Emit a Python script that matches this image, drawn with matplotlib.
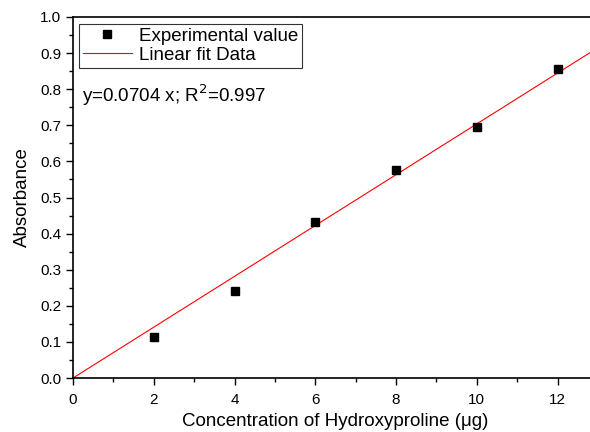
import matplotlib
matplotlib.use("Agg")
import numpy as np
import matplotlib.pyplot as plt

conc = [2, 4, 6, 8, 10, 12]
absorb = [0.113, 0.240, 0.432, 0.576, 0.695, 0.857]
slope = 0.0704
fit_x = [0, 13]

plt.rcParams['font.family'] = ['Liberation Sans', 'DejaVu Sans']

fig = plt.figure(figsize=(5.9, 4.32), dpi=100)
# right edge of the axes runs off the figure, as in the reference
ax = fig.add_axes([73/590, 1 - 378/432, (598 - 73)/590, (378 - 17)/432])

ax.plot(fit_x, [slope*v for v in fit_x], color="red", lw=0.8, label="Linear fit Data")
ax.plot(conc, absorb, "s", color="black", ms=5.5, label="Experimental value")

ax.set_xlim(0, 13)
ax.set_ylim(0, 1.0)
ax.set_xticks(np.arange(0, 13, 2))
ax.set_xticks(np.arange(1, 13, 2), minor=True)
ax.set_yticks(np.arange(0, 1.01, 0.1))
ax.set_yticks(np.arange(0.05, 1.0, 0.1), minor=True)
ax.yaxis.set_major_formatter(matplotlib.ticker.FormatStrFormatter('%.1f'))
ax.tick_params(direction="out", length=5, width=1, labelsize=11)
ax.tick_params(which="minor", direction="out", length=3, width=1)
ax.tick_params(axis="x", pad=6)
for s in ax.spines.values():
    s.set_linewidth(1.2)

ax.set_xlabel("Concentration of Hydroxyproline (\u03bcg)", fontsize=13.5)
ax.xaxis.set_label_coords(0.5, -(422 - 378)/361, transform=ax.transAxes)
ax.xaxis.label.set_va("center")
ax.set_ylabel("Absorbance", fontsize=13.5)
ax.yaxis.set_label_coords(-(73 - 22)/525, 0.5, transform=ax.transAxes)
ax.yaxis.label.set_va("center")

h, l = ax.get_legend_handles_labels()
leg = ax.legend(h[::-1], l[::-1], loc="upper left", bbox_to_anchor=(6/525, (378 - 24)/361),
                fontsize=13.5, frameon=True, fancybox=False, edgecolor="black",
                borderpad=0.2, handlelength=2.6, handletextpad=0.4, labelspacing=0.1,
                borderaxespad=0)
leg.get_frame().set_linewidth(0.8)

ax.text(9/525, (378 - 95)/361, "y=0.0704 x; R$^2$=0.997", fontsize=13.5, va="center",
        transform=ax.transAxes)

fig.savefig("out.png", dpi=100)
